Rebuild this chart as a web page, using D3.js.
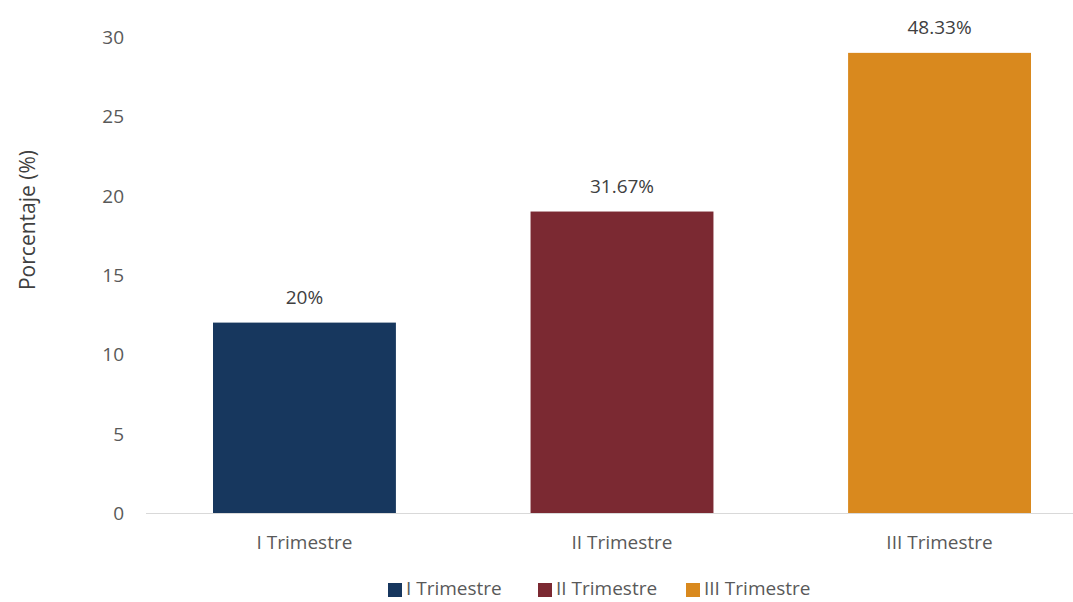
<!DOCTYPE html>
<html><head><meta charset="utf-8">
<script src="https://cdn.jsdelivr.net/npm/d3@7"></script>
<style>body{margin:0;background:#fff;} svg{display:block;font-family:"Open Sans",sans-serif;}</style>
</head><body><svg id="c" width="1073" height="602"></svg>
<script>
const categories = ["I Trimestre","II Trimestre","III Trimestre"];
const values = [12,19,29];
const labels = ["20%","31.67%","48.33%"];
const colors = ["#17375e","#7b2932","#d9891e"];
const yTicks = [0,5,10,15,20,25,30];

const svg = d3.select("#c");
const x = d3.scaleBand().domain(categories).range([146,1098]).paddingInner(0.424).paddingOuter(0.211);
const y = d3.scaleLinear().domain([0,30]).range([513,37]);

// y tick labels
svg.append("g").selectAll("text").data(yTicks).join("text")
  .attr("x",124).attr("y",d=>y(d)).attr("dy","0.36em").attr("text-anchor","end")
  .attr("fill","#595959").attr("font-size",19).text(d=>d);

// baseline
svg.append("line").attr("x1",146).attr("x2",1073).attr("y1",y(0)+0.5).attr("y2",y(0)+0.5)
  .attr("stroke","#d9d9d9").attr("stroke-width",1);

// bars
svg.append("g").selectAll("rect").data(categories).join("rect")
  .attr("x",d=>x(d)).attr("width",x.bandwidth())
  .attr("y",(d,i)=>y(values[i])).attr("height",(d,i)=>y(0)-y(values[i]))
  .attr("fill",(d,i)=>colors[i]);

// value labels
svg.append("g").selectAll("text").data(categories).join("text")
  .attr("x",d=>x(d)+x.bandwidth()/2).attr("y",(d,i)=>y(values[i])-19)
  .attr("text-anchor","middle").attr("fill","#404040").attr("font-size",19)
  .text((d,i)=>labels[i]);

// x labels
svg.append("g").selectAll("text").data(categories).join("text")
  .attr("x",d=>x(d)+x.bandwidth()/2).attr("y",549)
  .attr("text-anchor","middle").attr("fill","#595959").attr("font-size",19).text(d=>d);

// y title
svg.append("text").attr("transform","translate(35,220) rotate(-90)")
  .attr("text-anchor","middle").attr("fill","#404040").attr("font-size",21).text("Porcentaje (%)");

// legend
const legX = [388,538,686];
const lg = svg.append("g").selectAll("g").data(categories).join("g")
  .attr("transform",(d,i)=>`translate(${legX[i]},595)`);
lg.append("rect").attr("x",0).attr("y",-12).attr("width",14).attr("height",14).attr("fill",(d,i)=>colors[i]);
lg.append("text").attr("x",18).attr("y",0).attr("fill","#595959").attr("font-size",19).text(d=>d);
</script></body></html>
